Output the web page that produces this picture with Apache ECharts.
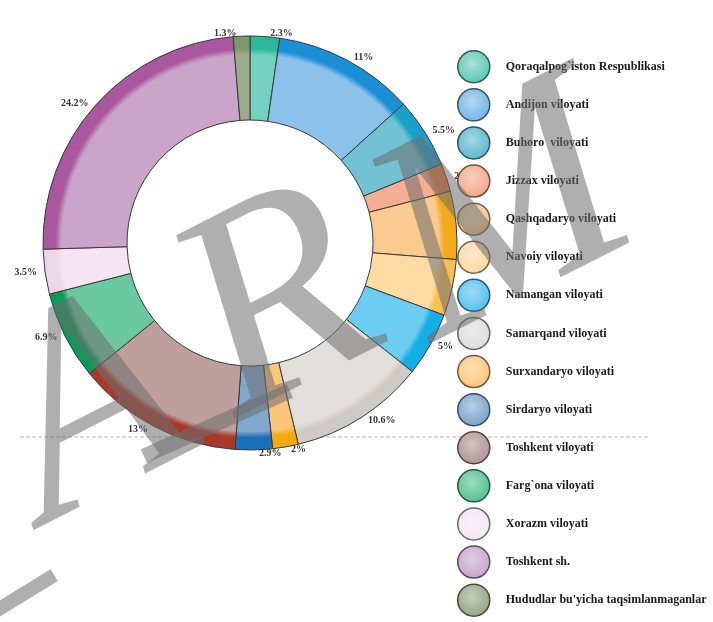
<!DOCTYPE html>
<html>
<head>
<meta charset="utf-8">
<script src="https://cdn.jsdelivr.net/npm/echarts@6/dist/echarts.min.js"></script>
<style>
  html, body { margin: 0; padding: 0; background: #fff; }
  #chart { width: 713px; height: 622px; }
</style>
</head>
<body>
<div id="chart"></div>
<script>
// hududlar va ulushlar (%)
let regions = [
  'Qoraqalpog`iston Respublikasi',
  'Andijon viloyati',
  'Buhoro  viloyati',
  'Jizzax viloyati',
  'Qashqadaryo viloyati',
  'Navoiy viloyati',
  'Namangan viloyati',
  'Samarqand viloyati',
  'Surxandaryo viloyati',
  'Sirdaryo viloyati',
  'Toshkent viloyati',
  'Farg`ona viloyati',
  'Xorazm viloyati',
  'Toshkent sh.',
  'Hududlar bu\'yicha taqsimlanmaganlar'
]
let shares = [2.3, 11, 5.5, 2.2, 5.3, 4.4, 5, 10.6, 2, 2.9, 13, 6.9, 3.5, 24.2, 1.3]

// slice body / rim colours
let bodyColors = ['#74d0bf', '#8cc1e9', '#72c2d3', '#f5ae92', '#fbca8e', '#fddba3', '#6dccf2', '#e1dedb', '#fcc67a', '#82a7ce', '#be9f9b', '#6ac99f', '#f5e4f1', '#caa4c9', '#9cab8c']
let rimColors = ['#2cb89b', '#1b8fd6', '#19a1c8', '#ee7b3c', '#f2a91a', '#f8c053', '#13aee6', '#cfcac5', '#f5aa12', '#1b6eb8', '#a8392a', '#0b9a59', '#ecd6e8', '#a9579f', '#7a9a6a']
let iconColors = ['#5ec8b2', '#72b6e6', '#5bb8cc', '#f2a88a', '#f8c688', '#fcd8a0', '#52c0ee', '#dcdcdc', '#fbc57a', '#7aa4cc', '#b09490', '#52c08e', '#f4e6f2', '#c8a4cc', '#96a486']

// watermark letters
let markLetters = ['A', 'R', 'M']

let cx = 250
let cy = 243
let rIn = 123
let rOut = 207

function shade (hex, k) {
  let n = parseInt(hex.slice(1), 16)
  let r = Math.round(((n >> 16) & 255) * k)
  let g = Math.round(((n >> 8) & 255) * k)
  let b = Math.round((n & 255) * k)
  return 'rgb(' + r + ',' + g + ',' + b + ')'
}

function lighten (hex, t) {
  let n = parseInt(hex.slice(1), 16)
  let c = [(n >> 16) & 255, (n >> 8) & 255, n & 255].map(v => Math.round(v + (255 - v) * t))
  return 'rgb(' + c.join(',') + ')'
}

let pieData = shares.map((v, i) => {
  return {
    name: regions[i],
    value: v,
    itemStyle: {
      color: {
        type: 'radial',
        x: cx,
        y: cy,
        r: rOut,
        global: true,
        colorStops: [
          { offset: 0, color: bodyColors[i] },
          { offset: 0.91, color: bodyColors[i] },
          { offset: 0.94, color: rimColors[i] },
          { offset: 1, color: rimColors[i] }
        ]
      }
    }
  }
})

let legendData = regions.map((name, i) => {
  return {
    name: name,
    icon: 'circle',
    itemStyle: {
      color: {
        type: 'radial',
        x: 0.45,
        y: 0.4,
        r: 0.6,
        colorStops: [
          { offset: 0, color: lighten(iconColors[i], 0.45) },
          { offset: 1, color: iconColors[i] }
        ]
      },
      borderColor: shade(iconColors[i], 0.45),
      borderWidth: 1.5
    }
  }
})

let markFill = 'rgba(110,110,110,0.55)'
let markPos = [[92, 415], [280, 310], [505, 220]]
let watermark = markLetters.map((ch, i) => {
  return {
    type: 'text',
    z: 50,
    x: markPos[i][0],
    y: markPos[i][1],
    rotation: 0.47,
    style: {
      text: ch,
      font: 'italic 290px "Liberation Serif"',
      fill: markFill,
      align: 'center',
      verticalAlign: 'middle'
    }
  }
})
watermark.push({
  type: 'rect',
  z: 50,
  x: 147,
  y: 463,
  rotation: 0.42,
  shape: { x: 0, y: -15, width: 160, height: 15 },
  style: { fill: markFill }
})
watermark.push({
  type: 'rect',
  z: 50,
  x: -5,
  y: 622,
  rotation: 0.55,
  shape: { x: 0, y: -16, width: 75, height: 14 },
  style: { fill: markFill }
})

let myChart = echarts.init(document.getElementById('chart'))

let option = {
  backgroundColor: '#fff',
  animation: false,
  legend: {
    orient: 'vertical',
    left: 457,
    top: 50,
    bottom: 0,
    padding: 0,
    itemWidth: 32,
    itemHeight: 32,
    itemGap: 4.6,
    data: legendData,
    textStyle: {
      fontFamily: 'Liberation Serif',
      fontWeight: 'bold',
      fontSize: 12,
      color: '#1a1a1a',
      padding: [0, 0, 0, 11]
    }
  },
  graphic: [
    {
      type: 'line',
      z: 0,
      shape: { x1: 20, y1: 437, x2: 650, y2: 437 },
      style: { stroke: '#b4b4b4', lineWidth: 1, lineDash: [4, 2] }
    }
  ].concat(watermark),
  series: [
    {
      type: 'pie',
      center: [cx, cy],
      radius: [rIn, rOut],
      startAngle: 90,
      clockwise: true,
      avoidLabelOverlap: false,
      data: pieData,
      itemStyle: {
        borderColor: '#3a3a3a',
        borderWidth: 1
      },
      label: {
        show: true,
        position: 'outside',
        formatter: p => p.value + '%',
        fontFamily: 'Liberation Serif',
        fontWeight: 'bold',
        fontSize: 10,
        color: '#333'
      },
      labelLine: {
        show: false,
        length: 3,
        length2: 0
      },
      emphasis: { disabled: true }
    }
  ]
}

myChart.setOption(option)
</script>
</body>
</html>
